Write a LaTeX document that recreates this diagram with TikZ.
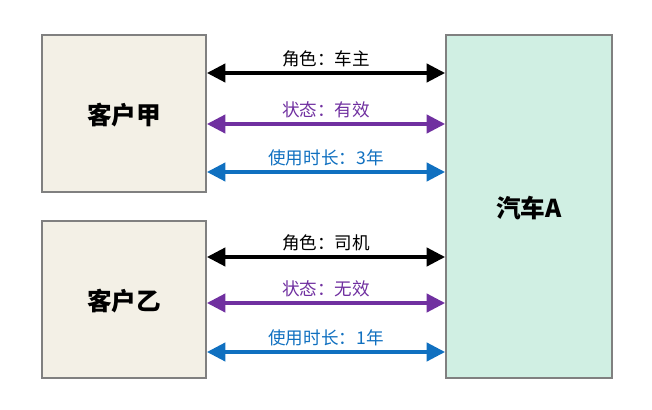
\documentclass[tikz,border=0pt]{standalone}
\usepackage{fontspec}
\usepackage{tikz}
\usetikzlibrary{arrows.meta}
\setmainfont{Noto Sans CJK SC}
\definecolor{boxBeige}{HTML}{F3F0E6}
\definecolor{carMint}{HTML}{D0EFE3}
\definecolor{edgeGray}{HTML}{808080}
\definecolor{relPurple}{HTML}{7030A0}
\definecolor{relBlue}{HTML}{1070C0}
\tikzset{
  party/.style={draw=edgeGray, line width=1.4pt, fill=boxBeige, minimum width=4.1cm,
    minimum height=3.925cm, text height=1.55em, text depth=0pt,
    font=\fontsize{17.5}{20}\selectfont\bfseries},
  car/.style={party, fill=carMint, minimum width=4.15cm, minimum height=8.575cm},
  rel/.style={{Triangle[length=13pt,width=13pt]}-{Triangle[length=13pt,width=13pt]}, line width=2.2pt},
  lbl/.style={font=\fontsize{12.5}{14}\selectfont, above=0pt},
}

\begin{document}
\begin{tikzpicture}
  \useasboundingbox (0,0) rectangle (16.3,-10.25);
  \node[party] (jia) at (3.1,-2.8375) {客户甲};
  \node[party] (yi)  at (3.1,-7.4875) {客户乙};
  \node[car]   (car) at (13.225,-5.1625) {汽车A};
  % relations of 客户甲
  \foreach \dy/\col/\txt in {1.0125/black/{角色：车主}, -0.2625/relPurple/{状态：有效}, -1.4625/relBlue/{使用时长：3年}} {
    \draw[rel, \col] ([yshift=\dy cm]jia.east) coordinate (l) -- (l -| car.west)
      node[midway, lbl, text=\col] {\txt};
  }
  % relations of 客户乙
  \foreach \dy/\col/\txt in {1.0625/black/{角色：司机}, -0.0875/relPurple/{状态：无效}, -1.3125/relBlue/{使用时长：1年}} {
    \draw[rel, \col] ([yshift=\dy cm]yi.east) coordinate (l) -- (l -| car.west)
      node[midway, lbl, text=\col] {\txt};
  }
\end{tikzpicture}
\end{document}
